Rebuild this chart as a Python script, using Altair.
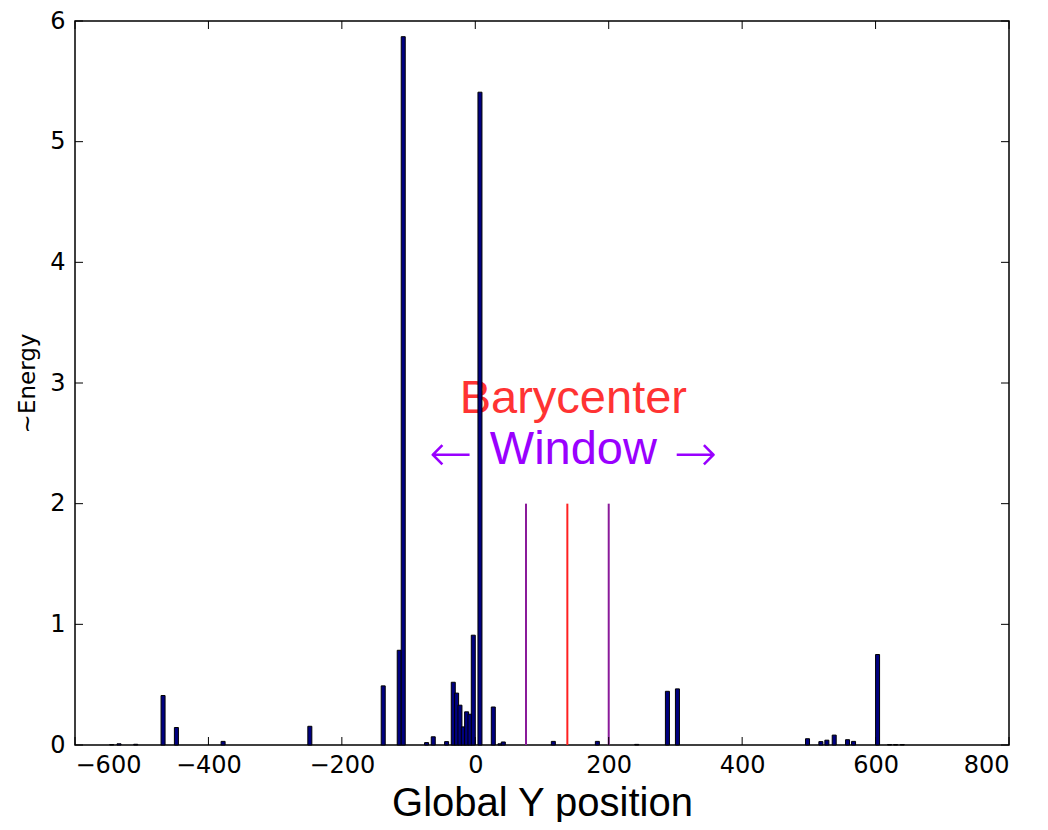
import altair as alt
import pandas as pd

# ---- data ----
positions = [-545, -534, -509, -468, -448, -378, -248, -138, -114, -108,
             -73, -63, -43, -33, -28, -23, -18, -13, -8, -3, 7, 27, 37, 42,
             117, 183, 242, 288, 303, 498, 518, 527, 538, 558, 567, 603,
             621, 630, 640]
energies = [0.004, 0.01, 0.006, 0.41, 0.145, 0.03, 0.155, 0.49, 0.785, 5.87,
            0.02, 0.068, 0.028, 0.52, 0.43, 0.33, 0.15, 0.275, 0.255, 0.91,
            5.41, 0.315, 0.01, 0.025, 0.03, 0.03, 0.005, 0.445, 0.465, 0.052,
            0.028, 0.04, 0.082, 0.044, 0.03, 0.75, 0.004, 0.004, 0.004]
bin_half = 3.0

line_x = [76, 138, 200]
line_top = [2, 2, 2]
line_color = ["#8a1a9a", "#ff2020", "#8a1a9a"]

ann_text = ["Barycenter", "Window"]
ann_x = [147, 147]
ann_y = [2.75, 2.33]
ann_color = ["#ff3333", "#9900ff"]

arrow_text = ["\u2190", "\u2192"]
arrow_x = [-37, 330]
arrow_y = [2.27, 2.27]

x_ticks = [-600, -400, -200, 0, 200, 400, 600, 800]
y_ticks = [0, 1, 2, 3, 4, 5, 6]

W, H = 934, 724

bars_df = pd.DataFrame({"pos": positions, "e": energies})
lines_df = pd.DataFrame({"x": line_x, "top": line_top, "c": line_color})
ann_df = pd.DataFrame({"t": ann_text, "x": ann_x, "y": ann_y, "c": ann_color})
arr_df = pd.DataFrame({"t": arrow_text, "x": arrow_x, "y": arrow_y})
xt_df = pd.DataFrame({"v": x_ticks})
yt_df = pd.DataFrame({"v": y_ticks})

xscale = alt.Scale(domain=[-600, 800], nice=False, zero=False)
yscale = alt.Scale(domain=[0, 6], nice=False)

xaxis = alt.Axis(values=x_ticks, ticks=False, domain=False, grid=False,
                 labelFont="DejaVu Sans", labelFontSize=24, labelColor="black",
                 labelPadding=8, title="Global Y position",
                 titleFont="Liberation Sans", titleFontSize=40,
                 titleFontWeight="normal", titleColor="black",
                 titleBaseline="alphabetic", titleY=70,
                 format="d")
yaxis = alt.Axis(values=y_ticks, ticks=False, domain=False, grid=False,
                 labelFont="DejaVu Sans", labelFontSize=24, labelColor="black",
                 labelPadding=10, title="~Energy",
                 titleFont="DejaVu Sans", titleFontSize=23,
                 titleFontWeight="normal", titleColor="black",
                 titleBaseline="middle", titleX=-48,
                 format="d")

text = alt.Chart(ann_df).mark_text(
    font="Liberation Sans", fontSize=47, align="center", baseline="alphabetic"
).encode(
    x=alt.X("x:Q", scale=xscale, axis=xaxis),
    y=alt.Y("y:Q", scale=yscale, axis=yaxis),
    text="t:N",
    color=alt.Color("c:N", scale=None),
)

arrows = alt.Chart(arr_df).mark_text(
    font="DejaVu Sans", fontSize=52, fontWeight=200, align="center",
    baseline="alphabetic", color="#9900ff"
).encode(
    x=alt.X("x:Q", scale=xscale, axis=xaxis),
    y=alt.Y("y:Q", scale=yscale, axis=yaxis),
    text="t:N",
)

bars = alt.Chart(bars_df).transform_calculate(
    x0=f"datum.pos - {bin_half}", x1=f"datum.pos + {bin_half}"
).mark_bar(fill="#000080", stroke="black", strokeWidth=1).encode(
    x=alt.X("x0:Q", scale=xscale, axis=xaxis),
    x2="x1:Q",
    y=alt.Y("e:Q", scale=yscale, axis=yaxis),
    y2=alt.datum(0),
)

vlines = alt.Chart(lines_df).mark_rule(strokeWidth=2).encode(
    x=alt.X("x:Q", scale=xscale, axis=xaxis),
    y=alt.Y("top:Q", scale=yscale, axis=yaxis),
    y2=alt.datum(0),
    color=alt.Color("c:N", scale=None),
)

tk = 8
xt_bottom = alt.Chart(xt_df).mark_rule(color="black", strokeWidth=1).encode(
    x=alt.X("v:Q", scale=xscale, axis=xaxis), y=alt.value(H), y2=alt.value(H - tk))
xt_top = alt.Chart(xt_df).mark_rule(color="black", strokeWidth=1).encode(
    x=alt.X("v:Q", scale=xscale, axis=xaxis), y=alt.value(0), y2=alt.value(tk))
yt_left = alt.Chart(yt_df).mark_rule(color="black", strokeWidth=1).encode(
    y=alt.Y("v:Q", scale=yscale, axis=yaxis), x=alt.value(0), x2=alt.value(tk))
yt_right = alt.Chart(yt_df).mark_rule(color="black", strokeWidth=1).encode(
    y=alt.Y("v:Q", scale=yscale, axis=yaxis), x=alt.value(W), x2=alt.value(W - tk))

chart = alt.layer(text, arrows, vlines, bars, xt_bottom, xt_top, yt_left, yt_right).properties(
    width=W, height=H,
    autosize=alt.AutoSizeParams(type="none"),
    padding={"left": 67, "top": 13, "right": 31, "bottom": 77},
).configure_view(stroke="black", strokeWidth=1.5)

chart.save("out.html", embed_options={"renderer": "svg", "actions": False})
